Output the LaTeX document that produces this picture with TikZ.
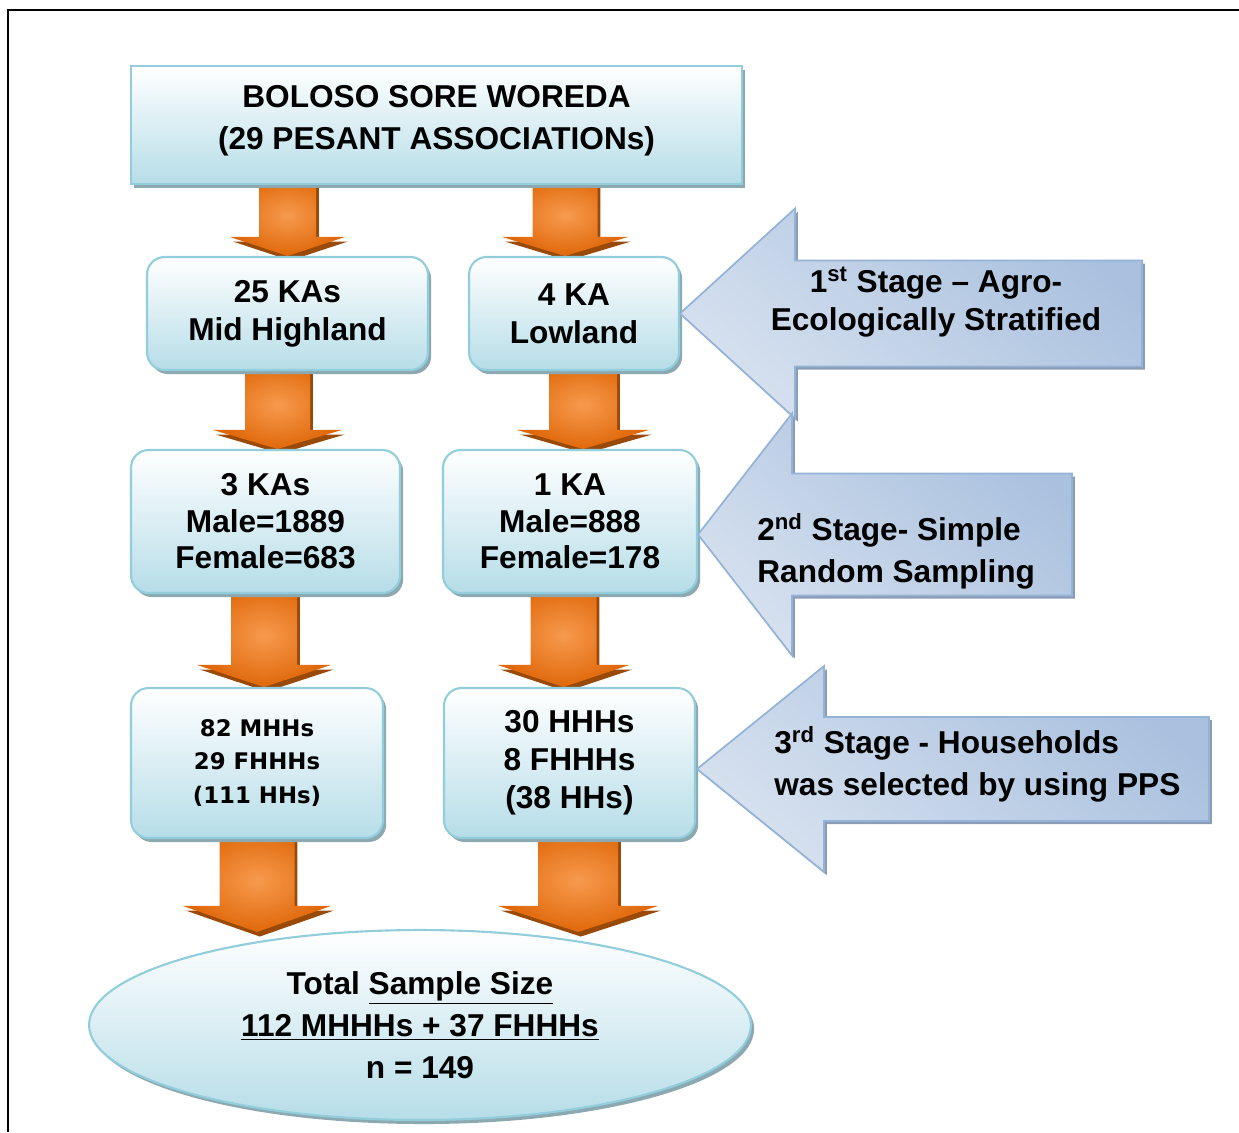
\documentclass[tikz,border=0pt]{standalone}
\usepackage{fontspec}
\setmainfont{Liberation Sans}
\newfontfamily\hhfont{DejaVu Sans}
\usepackage{tikz}
\usetikzlibrary{shapes.geometric,shadows,calc,backgrounds}

\definecolor{boxbot}{HTML}{B6DDE8}
\definecolor{boxline}{HTML}{92CDDC}
\definecolor{boxshade}{HTML}{8CA8B1}
\definecolor{orin}{HTML}{F79A4E}
\definecolor{orout}{HTML}{E0680A}
\definecolor{orshade}{HTML}{9A4A08}
\definecolor{stglight}{HTML}{D6E1EF}
\definecolor{stgdark}{HTML}{A9C0DE}
\definecolor{stgline}{HTML}{95B3D7}
\definecolor{stgshade}{HTML}{8B9CB6}

\tikzset{
	kabox/.style={draw=boxline,line width=1.2pt,top color=white,bottom color=boxbot,rounded corners=10pt,align=center,inner sep=0pt,
		font=\bfseries\fontsize{18}{21.6}\selectfont,
		drop shadow={shadow xshift=1.8pt,shadow yshift=-2.3pt,fill=boxshade,opacity=1}},
	topbox/.style={kabox,sharp corners,font=\bfseries\fontsize{18}{24}\selectfont},
	orarr/.style={inner color=orin,outer color=orout,
		drop shadow={shadow xshift=1.6pt,shadow yshift=-2.6pt,fill=orshade,opacity=1}},
	stgarr/.style={draw=stgline,line width=1pt,top color=stgdark,bottom color=stglight,shading angle=-40,
		drop shadow={shadow xshift=1.6pt,shadow yshift=-1.8pt,fill=stgshade,opacity=1}},
	stgtext/.style={inner sep=0pt,font=\bfseries\fontsize{18}{24}\selectfont}
}

% fat orange arrow: source node, tip, half shaft, half head, head length
\newcommand{\orarrow}[5]{%
	\begin{pgfonlayer}{background}
	\coordinate (t) at (#2);
	\coordinate (s) at (#1.south -| t);
	\path[orarr] ($(s)+(-#3,-10)$) -- ($(s)+(#3,-10)$) -- ($(t)+(#3,-#5)$) -- ($(t)+(#4,-#5)$) -- (t)
		-- ($(t)+(-#4,-#5)$) -- ($(t)+(-#3,-#5)$) -- cycle;
	\end{pgfonlayer}}
% stage arrow: tip, head length, half head, half shaft, shaft length
\newcommand{\stgarrow}[5]{%
	\path[stgarr] (#1) -- ++(#2,-#3) -- ++(0,#3-#4) -- ++(#5,0) -- ++(0,2*#4) -- ++(-#5,0) -- ++(0,#3-#4) -- cycle;}

\begin{document}
\begin{tikzpicture}[x=0.02cm,y=-0.02cm]
	\useasboundingbox (0,0) rectangle (1239,1132);
	\draw[line width=1pt] (8,1132) -- (8,10) -- (1239,10);

	\node[topbox,minimum width=12.22cm,minimum height=2.36cm] (top) at (436.5,125) {BOLOSO SORE WOREDA\\(29 PESANT ASSOCIATIONs)\\[-15pt]};

	\node[kabox,minimum width=5.62cm,minimum height=2.26cm] (mid) at (287.5,313.5) {25 KAs\\Mid Highland};
	\node[kabox,minimum width=4.2cm,minimum height=2.26cm] (low) at (574,313.5) {4 KA\\Lowland};

	\node[kabox,minimum width=5.38cm,minimum height=2.86cm,font=\bfseries\fontsize{18}{20.8}\selectfont] (three) at (265.5,521.5) {3 KAs\\Male=1889\\Female=683};
	\node[kabox,minimum width=5.08cm,minimum height=2.86cm,font=\bfseries\fontsize{18}{20.8}\selectfont] (one) at (570,521.5) {1 KA\\Male=888\\Female=178};

	\node[kabox,minimum width=5.04cm,minimum height=3cm,font=\hhfont\bfseries\fontsize{13}{19}\selectfont] (hhm) at (257,763) {82 MHHs\\29 FHHHs\\(111 HHs)};
	\node[kabox,minimum width=5.02cm,minimum height=3cm] (hhf) at (569.5,763) {30 HHHs\\8 FHHHs\\(38 HHs)};

	\node[kabox,ellipse,sharp corners,minimum width=13.24cm,minimum height=3.8cm,font=\bfseries\fontsize{18}{24}\selectfont] (total) at (420,1025)
		{Total \underline{Sample Size}\\\underline{112 MHHHs + 37 FHHHs}\\n = 149};

	\orarrow{top}{mid.north}{28.5}{57.5}{19}
	\orarrow{top}{$(low.north)+(-9,0)$}{32.5}{63}{19}
	\orarrow{mid}{$(three.north)+(12,0)$}{32.5}{64.5}{19}
	\orarrow{low}{$(one.north)+(13,0)$}{34}{66}{19}
	\orarrow{three}{$(hhm.north)+(7,0)$}{33}{67}{22}
	\orarrow{one}{$(hhf.north)+(-6,0)$}{33}{66}{22}
	\orarrow{hhm}{$(hhm.south |- total.north)+(0,3)$}{37.5}{74}{26}
	\orarrow{hhf}{$(hhf.south |- total.north)+(8.5,3)$}{40}{80}{26}

	\stgarrow{low.east}{115}{105}{53}{347}
	\stgarrow{$(one.east)+(0,13)$}{94}{121}{61}{280}
	\stgarrow{$(hhf.east)+(1,6)$}{127}{103}{52}{385}

	\node[stgtext,align=center,font=\bfseries\fontsize{18}{21.6}\selectfont] (stgone) at (936,302) {1\textsuperscript{st} Stage -- Agro-\\Ecologically Stratified};
	\node[stgtext,align=left,anchor=west] (stgtwo) at (757,551) {2\textsuperscript{nd} Stage- Simple\\Random Sampling};
	\node[stgtext,align=left,anchor=west] (stgthree) at (774,764) {3\textsuperscript{rd} Stage - Households\\was selected by using PPS};
\end{tikzpicture}
\end{document}
